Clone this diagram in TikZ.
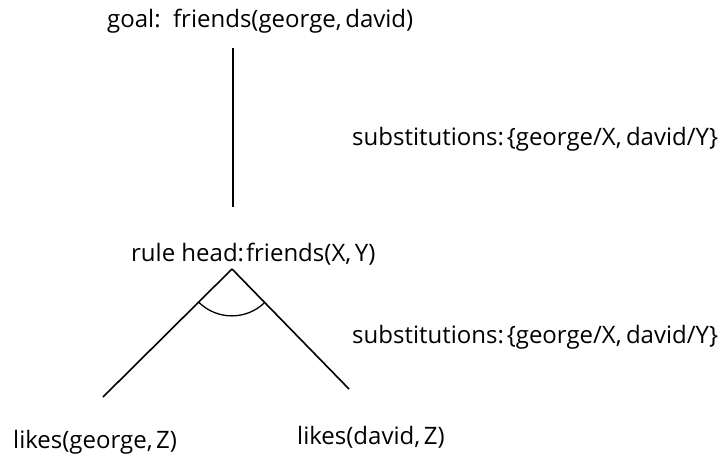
\documentclass[tikz,border=0pt]{standalone}
\usepackage{fontspec}
\setmainfont{Open Sans}
\usetikzlibrary{calc}
\begin{document}
\begin{tikzpicture}[x=1pt,y=-1pt,
  lbl/.style={inner sep=0pt,anchor=base west,font=\fontsize{24}{26}\selectfont},
  edge/.style={line width=1.6pt,black}]
\useasboundingbox (0,0) rectangle (727,457);
\node[lbl] (goal) at (107,28) {goal:\ \ friends(george,\hspace{0.15em}david)};
\coordinate (gtop) at (233,48);
\coordinate (gbot) at (233,207);
\draw[edge] (gtop) -- (gbot);
\node[lbl] (sub1) at (352,146) {substitutions:\hspace{0.12em}\{george/X,\hspace{0.18em}david/Y\}};
\node[lbl] (head) at (131,261) {rule head:\hspace{0.08em}friends(X,\hspace{0.15em}Y)};
\coordinate (apex) at (232,269);
\coordinate (lend) at (103,397);
\coordinate (rend) at (349,389);
\draw[edge] (apex) -- (lend);
\draw[edge] (apex) -- (rend);
\draw[line width=1.3pt] ($(apex)!47pt!(lend)$) arc[start angle=135,end angle=45,radius=47];
\node[lbl] (sub2) at (352,343) {substitutions:\hspace{0.12em}\{george/X,\hspace{0.18em}david/Y\}};
\node[lbl] (l1) at (13,448) {likes(george,\hspace{0.15em}Z)};
\node[lbl] (l2) at (297,444) {likes(david,\hspace{0.15em}Z)};
\end{tikzpicture}
\end{document}
